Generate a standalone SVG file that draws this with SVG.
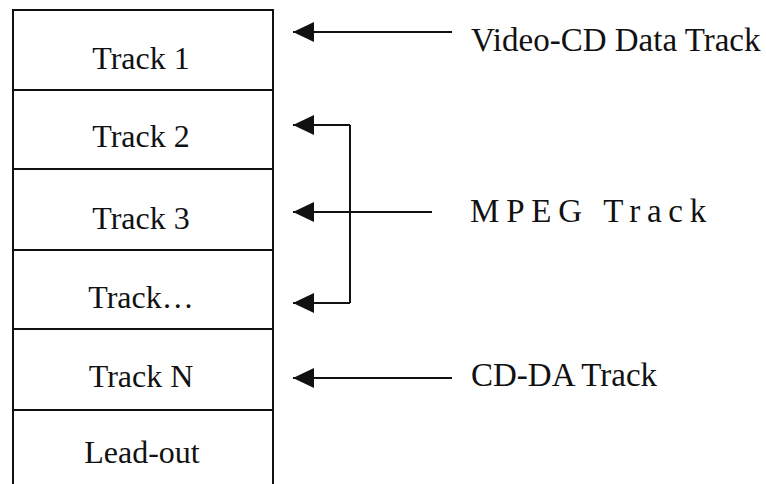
<svg xmlns="http://www.w3.org/2000/svg" width="766" height="484" viewBox="0 0 766 484">
<style>
text{font-family:"Liberation Serif","Times New Roman",serif;font-size:32px;fill:#111}
.c{text-anchor:middle}
.r{font-size:33px}
.ln{stroke:#111;stroke-width:2;fill:none}
</style>
<defs>
<marker id="ah" markerUnits="userSpaceOnUse" markerWidth="22" markerHeight="22" refX="21" refY="10" orient="auto" viewBox="0 0 22 20">
<path d="M0,0 L21,10 L0,20 Z" fill="#111"/>
</marker>
</defs>
<rect width="766" height="484" fill="#fff"/>
<g id="stack">
<path class="ln" d="M13,484 V10 H273 V484"/>
</g>
<g id="track1"><text class="c" x="141" y="69">Track 1</text></g>
<g id="track2"><line class="ln" x1="13" y1="90" x2="273" y2="90"/><text class="c" x="141" y="147">Track 2</text></g>
<g id="track3"><line class="ln" x1="13" y1="169" x2="273" y2="169"/><text class="c" x="141" y="229">Track 3</text></g>
<g id="trackdots"><line class="ln" x1="13" y1="250" x2="273" y2="250"/><text class="c" x="141" y="308">Track…</text></g>
<g id="trackN"><line class="ln" x1="13" y1="329" x2="273" y2="329"/><text class="c" x="141" y="387">Track N</text></g>
<g id="leadout"><line class="ln" x1="13" y1="410" x2="273" y2="410"/><text class="c" x="142" y="463">Lead-out</text></g>
<g id="label-vcd"><text class="r" x="471" y="51">Video-CD Data Track</text></g>
<g id="label-mpeg"><text class="r" x="470" y="222" style="letter-spacing:6.8px">MPEG Track</text></g>
<g id="label-cdda"><text class="r" x="471" y="386">CD-DA Track</text></g>
<g id="connectors">
<line class="ln" x1="452" y1="32" x2="293" y2="32" marker-end="url(#ah)"/>
<path class="ln" d="M350,125 V303"/>
<line class="ln" x1="350" y1="125" x2="293" y2="125" marker-end="url(#ah)"/>
<line class="ln" x1="432" y1="212" x2="293" y2="212" marker-end="url(#ah)"/>
<line class="ln" x1="350" y1="303" x2="293" y2="303" marker-end="url(#ah)"/>
<line class="ln" x1="452" y1="378" x2="293" y2="378" marker-end="url(#ah)"/>
</g>
</svg>
